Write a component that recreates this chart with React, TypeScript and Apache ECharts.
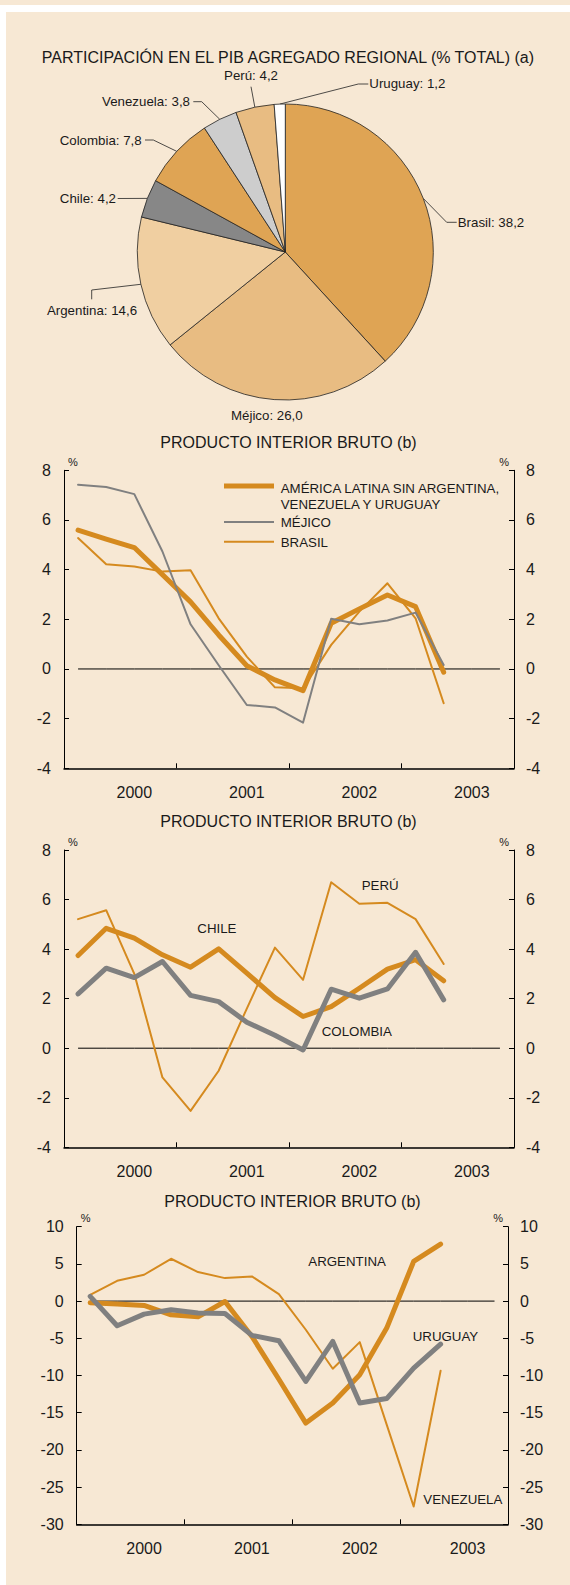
import React, { useEffect, useRef } from "react";
import * as echarts from "echarts";

const FONT = '"Liberation Sans", Arial, Helvetica, sans-serif';
const TXT = "#1a1a1a";
const ORANGE = "#D58A1F";
const GRAY = "#808080";
const BEIGE = "#F7E8D4";

// ---- Pie data ----
const pieNames = ["Brasil", "Méjico", "Argentina", "Chile", "Colombia", "Venezuela", "Perú", "Uruguay"];
const pieValues = [38.2, 26.0, 14.6, 4.2, 7.8, 3.8, 4.2, 1.2];
const pieColors = ["#DFA454", "#E8BC82", "#F0CFA1", "#878787", "#DFA454", "#CDCDCD", "#E8BC82", "#FFFFFF"];

// ---- Time axis ----
const quarters = [
  "I 2000", "II 2000", "III 2000", "IV 2000",
  "I 2001", "II 2001", "III 2001", "IV 2001",
  "I 2002", "II 2002", "III 2002", "IV 2002",
  "I 2003", "II 2003", "III 2003", "IV 2003",
];

// ---- Chart 2 series ----
const latam = [5.59, 5.23, 4.89, 3.8, 2.7, 1.37, 0.13, -0.44, -0.87, 1.84, 2.42, 2.98, 2.51, -0.13];
const mexico = [7.42, 7.33, 7.04, 4.73, 1.8, 0.15, -1.45, -1.55, -2.16, 2.02, 1.8, 1.95, 2.27, 0.16];
const brasil = [5.27, 4.22, 4.13, 3.92, 3.98, 2.04, 0.5, -0.74, -0.78, 0.97, 2.31, 3.45, 2.04, -1.38];

// ---- Chart 3 series ----
const chile = [3.74, 4.84, 4.44, 3.77, 3.27, 4.01, 3.03, 2.04, 1.28, 1.68, 2.42, 3.19, 3.57, 2.72];
const colombia = [2.19, 3.23, 2.85, 3.5, 2.13, 1.88, 1.05, 0.52, -0.07, 2.38, 2.02, 2.39, 3.87, 1.95];
const peru = [5.21, 5.57, 3.0, -1.18, -2.53, -0.91, 1.6, 4.06, 2.76, 6.7, 5.83, 5.87, 5.21, 3.4];

// ---- Chart 4 series ----
const argentina = [-0.22, -0.4, -0.58, -1.84, -2.11, -0.05, -4.75, -10.5, -16.4, -13.7, -9.9, -3.63, 5.33, 7.66];
const uruguay = [0.63, -3.32, -1.75, -1.16, -1.61, -1.66, -4.61, -5.33, -10.8, -5.42, -13.7, -13.1, -9.0, -5.78];
const venezuela = [0.85, 2.73, 3.54, 5.69, 3.9, 3.09, 3.32, 0.94, -3.85, -9.09, -5.51, -16.6, -27.6, -9.36];

// ---- Axis scales ----
const scaleSmall = { min: -4, max: 8, interval: 2 };
const scaleWide = { min: -30, max: 10, interval: 5 };
const zeroRef = quarters.map(() => 0);

// ---- Layout ----
const PIE_CX = 285.3;
const PIE_CY = 252;
const PIE_R = 148;

const grids = [
  { left: 64, top: 470.3, width: 450, height: 298 },
  { left: 64, top: 850, width: 450, height: 297.3 },
  { left: 76.7, top: 1226.7, width: 431.3, height: 297.6 },
];

const pieLabelLayout: { pts: number[][]; x: number; y: number; align: string }[] = [
  { pts: [[446.7, 222.3], [456.7, 222.3]], x: 457.7, y: 222.3, align: "left" },
  { pts: [], x: 266.8, y: 415.7, align: "center" },
  { pts: [[91.7, 290], [91.7, 299.3]], x: 92, y: 310, align: "center" },
  { pts: [[117.7, 198.5]], x: 116, y: 198.3, align: "right" },
  { pts: [[153.3, 140], [145, 140]], x: 141.7, y: 140, align: "right" },
  { pts: [[201.7, 101.7], [193.3, 101.7]], x: 190, y: 101.7, align: "right" },
  { pts: [[251, 86.7]], x: 251, y: 75, align: "center" },
  { pts: [[358.3, 84], [368.3, 84]], x: 369.3, y: 83.5, align: "left" },
];

function fmt(v: number) {
  return v.toFixed(1).replace(".", ",");
}

function text(str: string, x: number, y: number, size: number, align = "left") {
  return {
    type: "text",
    x,
    y,
    silent: true,
    style: {
      text: str,
      fill: TXT,
      font: `${size}px ${FONT}`,
      align,
      verticalAlign: "middle",
    },
  };
}

function yAxisDef(gi: number, scale: any, pos: "left" | "right") {
  return {
    type: "value",
    gridIndex: gi,
    position: pos,
    min: scale.min,
    max: scale.max,
    interval: scale.interval,
    name: "%",
    nameLocation: "end",
    nameGap: 3,
    nameTextStyle: {
      fontSize: 11,
      fontFamily: FONT,
      color: TXT,
      align: pos === "left" ? "left" : "right",
      verticalAlign: "bottom",
      padding: pos === "left" ? [0, 0, 0, 4] : [0, 5, 0, 0],
    },
    axisLine: { show: true, lineStyle: { color: "#000", width: 1 } },
    axisTick: { show: true, inside: true, length: 5, lineStyle: { color: "#000", width: 1 } },
    axisLabel: { margin: pos === "left" ? 13 : 12, fontSize: 16, fontFamily: FONT, color: TXT },
    splitLine: { show: false },
  };
}

function xAxisDef(gi: number) {
  return {
    type: "category",
    gridIndex: gi,
    data: quarters,
    boundaryGap: true,
    axisLine: { show: true, onZero: false, lineStyle: { color: "#000", width: 1.5 } },
    axisTick: {
      show: true,
      inside: true,
      length: 5,
      interval: (i: number) => i % 4 === 0,
      lineStyle: { color: "#000", width: 1 },
    },
    axisLabel: {
      interval: (i: number) => i % 4 === 2,
      formatter: (v: string) => v.split(" ")[1],
      margin: 16,
      fontSize: 16,
      fontFamily: FONT,
      color: TXT,
    },
    splitLine: { show: false },
  };
}

function lineSeries(gi: number, data: number[], color: string, width: number, z: number) {
  return {
    type: "line",
    xAxisIndex: gi,
    yAxisIndex: gi * 2,
    data,
    symbol: "none",
    silent: true,
    z,
    lineStyle: { color, width, join: "round", cap: "round" },
  };
}

function zeroSeries(gi: number) {
  return {
    type: "line",
    xAxisIndex: gi,
    yAxisIndex: gi * 2,
    data: zeroRef,
    symbol: "none",
    silent: true,
    z: 1,
    lineStyle: { color: "#000", width: 1 },
  };
}

function buildPieGraphics() {
  const total = pieValues.reduce((a, b) => a + b, 0);
  let acc = 0;
  const out: any[] = [];
  pieValues.forEach((v, i) => {
    const mid = ((acc + v / 2) / total) * Math.PI * 2;
    acc += v;
    const ax = PIE_CX + PIE_R * Math.sin(mid);
    const ay = PIE_CY - PIE_R * Math.cos(mid);
    const lay = pieLabelLayout[i];
    if (lay.pts.length) {
      out.push({
        type: "polyline",
        silent: true,
        shape: { points: [[ax, ay], ...lay.pts] },
        style: { stroke: "#222", lineWidth: 0.8, fill: "none" },
      });
    }
    out.push(text(`${pieNames[i]}: ${fmt(v)}`, lay.x, lay.y, 13.3, lay.align));
  });
  return out;
}

export default function App() {
  const ref = useRef<HTMLDivElement>(null);

  useEffect(() => {
    document.body.style.margin = "0";
    if (!ref.current) return;
    const chart = echarts.init(ref.current, undefined, { renderer: "svg" });

    const graphics: any[] = [
      { type: "rect", z: -100, silent: true, shape: { x: 0, y: 0, width: 570, height: 5 }, style: { fill: BEIGE } },
      { type: "rect", z: -100, silent: true, shape: { x: 6, y: 12, width: 564, height: 1573 }, style: { fill: BEIGE } },
      text("PARTICIPACIÓN EN EL PIB AGREGADO REGIONAL (% TOTAL) (a)", 287.9, 57.3, 16, "center"),
      text("PRODUCTO INTERIOR BRUTO (b)", 288.5, 442.7, 16, "center"),
      text("PRODUCTO INTERIOR BRUTO (b)", 288.5, 821.7, 16, "center"),
      text("PRODUCTO INTERIOR BRUTO (b)", 292.5, 1201.7, 16, "center"),
      // legend chart 2
      { type: "line", silent: true, shape: { x1: 224, y1: 486, x2: 274, y2: 486 }, style: { stroke: ORANGE, lineWidth: 5 } },
      text("AMÉRICA LATINA SIN ARGENTINA,", 280.7, 488.3, 13.3),
      text("VENEZUELA Y URUGUAY", 280.7, 504.3, 13.3),
      { type: "line", silent: true, shape: { x1: 224, y1: 522, x2: 274, y2: 522 }, style: { stroke: GRAY, lineWidth: 2 } },
      text("MÉJICO", 280.7, 522.3, 13.3),
      { type: "line", silent: true, shape: { x1: 224, y1: 541.7, x2: 274, y2: 541.7 }, style: { stroke: ORANGE, lineWidth: 2 } },
      text("BRASIL", 280.7, 542.3, 13.3),
      // chart 3 labels
      text("PERÚ", 361.7, 885, 13.3),
      text("CHILE", 197.3, 928.3, 13.3),
      text("COLOMBIA", 321.7, 1031, 13.3),
      // chart 4 labels
      text("ARGENTINA", 308.3, 1261, 13.3),
      text("URUGUAY", 412.7, 1336.7, 13.3),
      text("VENEZUELA", 423.3, 1499, 13.3),
      ...buildPieGraphics(),
    ];

    chart.setOption({
      animation: false,
      backgroundColor: "#ffffff",
      textStyle: { fontFamily: FONT },
      grid: grids.map((g) => ({ ...g, containLabel: false })),
      xAxis: [xAxisDef(0), xAxisDef(1), xAxisDef(2)],
      yAxis: [
        yAxisDef(0, scaleSmall, "left"),
        yAxisDef(0, scaleSmall, "right"),
        yAxisDef(1, scaleSmall, "left"),
        yAxisDef(1, scaleSmall, "right"),
        yAxisDef(2, scaleWide, "left"),
        yAxisDef(2, scaleWide, "right"),
      ],
      series: [
        {
          type: "pie",
          center: [PIE_CX, PIE_CY],
          radius: PIE_R,
          startAngle: 90,
          clockwise: true,
          silent: true,
          avoidLabelOverlap: false,
          label: { show: false },
          labelLine: { show: false },
          itemStyle: { borderColor: "#222", borderWidth: 0.8 },
          emphasis: { disabled: true },
          data: pieNames.map((n, i) => ({ name: n, value: pieValues[i], itemStyle: { color: pieColors[i] } })),
        },
        zeroSeries(0),
        lineSeries(0, brasil, ORANGE, 2, 3),
        lineSeries(0, latam, ORANGE, 5, 4),
        lineSeries(0, mexico, GRAY, 2, 5),
        zeroSeries(1),
        lineSeries(1, peru, ORANGE, 2, 3),
        lineSeries(1, chile, ORANGE, 5, 4),
        lineSeries(1, colombia, GRAY, 5, 5),
        zeroSeries(2),
        lineSeries(2, venezuela, ORANGE, 2, 3),
        lineSeries(2, argentina, ORANGE, 5, 4),
        lineSeries(2, uruguay, GRAY, 5, 5),
      ],
      graphic: graphics,
    });

    return () => chart.dispose();
  }, []);

  return <div ref={ref} style={{ width: 570, height: 1585 }} />;
}
